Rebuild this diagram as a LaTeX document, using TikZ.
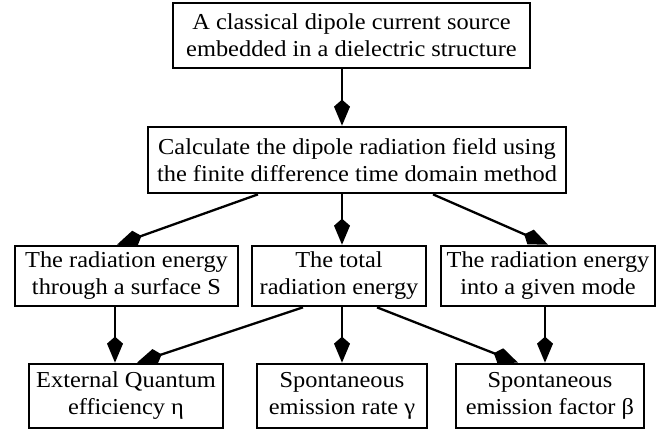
\documentclass[tikz,border=0pt]{standalone}
\usepackage{fontspec}
\setmainfont[FakeStretch=1.07]{Liberation Serif}
\usetikzlibrary{arrows.meta}
\begin{document}
\begin{tikzpicture}[x=1pt,y=-1pt,
  box/.style={draw, line width=2.7pt, align=center, inner sep=0pt,
    font=\fontsize{22.8}{27}\selectfont},
  conn/.style={line width=2.3pt, -{Kite[length=26pt,width=16pt,inset=7pt]}}]
\useasboundingbox (0,0) rectangle (672,434);
\node[box, minimum width=357pt, minimum height=65pt] (src) at (351.5,35.5)
  {A classical dipole current source\\embedded in a dielectric structure};
\node[box, minimum width=418pt, minimum height=66pt] (calc) at (357,160)
  {Calculate the dipole radiation field using\\the finite difference time domain method};
\node[box, minimum width=223pt, minimum height=60pt] (ml) at (126.5,276)
  {The radiation energy\\through a surface S};
\node[box, minimum width=174pt, minimum height=60pt] (mc) at (339,276)
  {The total\\radiation energy};
\node[box, minimum width=214pt, minimum height=60pt] (mr) at (548,276)
  {The radiation energy\\into a given mode};
\node[box, minimum width=194pt, minimum height=64pt] (bl) at (126,396)
  {External Quantum\\efficiency η};
\node[box, minimum width=170pt, minimum height=64pt] (bc) at (342,396)
  {Spontaneous\\emission rate γ};
\node[box, minimum width=188pt, minimum height=64pt] (br) at (550,396)
  {Spontaneous\\emission factor β};
\draw[conn] (src.south -| 342,0) -- (calc.north -| 342,0);
\draw[conn] (calc.south -| 258,0) -- (ml.north -| 117,0);
\draw[conn] (calc.south -| 342,0) -- (mc.north -| 342,0);
\draw[conn] (calc.south -| 433,0) -- (mr.north -| 548,0);
\draw[conn] (ml.south -| 115,0) -- (bl.north -| 115,0);
\draw[conn] (mc.south -| 303,0) -- (bl.north -| 137,0);
\draw[conn] (mc.south -| 342,0) -- (bc.north -| 342,0);
\draw[conn] (mc.south -| 377,0) -- (br.north -| 518,0);
\draw[conn] (mr.south -| 545,0) -- (br.north -| 545,0);
\end{tikzpicture}
\end{document}
